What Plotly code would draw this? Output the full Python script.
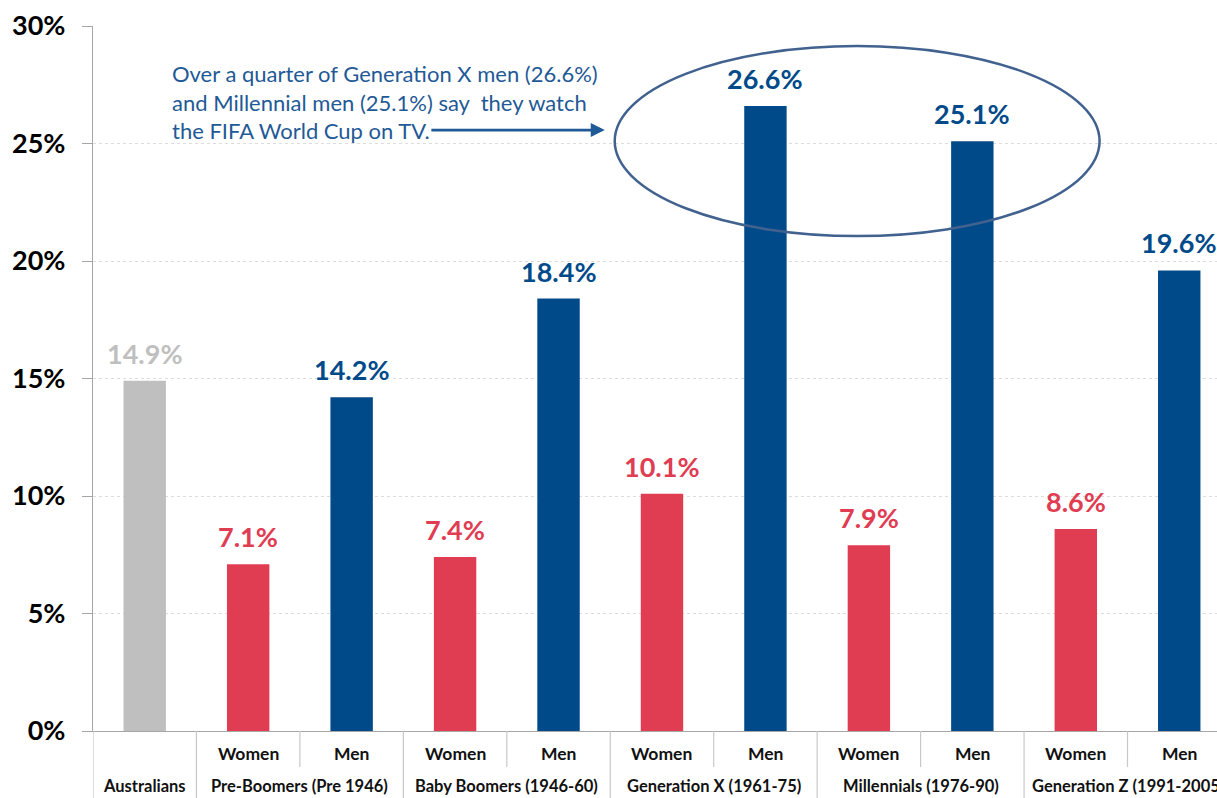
import plotly.graph_objects as go

categories = ["Australians", "Women", "Men", "Women", "Men", "Women", "Men",
              "Women", "Men", "Women", "Men"]
values = [14.9, 7.1, 14.2, 7.4, 18.4, 10.1, 26.6, 7.9, 25.1, 8.6, 19.6]
groups = ["Australians", "Pre-Boomers (Pre 1946)", "Baby Boomers (1946-60)",
          "Generation X (1961-75)", "Millennials (1976-90)", "Generation Z (1991-2005)"]
group_centers = [0, 1.5, 3.5, 5.5, 7.5, 9.5]
y_ticks = [0, 5, 10, 15, 20, 25, 30]
y_tick_labels = ["0%", "5%", "10%", "15%", "20%", "25%", "30%"]

GRAY = "#BFBFBF"
RED = "#E03C52"
BLUE = "#004A8A"
colors = [GRAY] + [RED if c == "Women" else BLUE for c in categories[1:]]

FONT = "Lato"
xs = list(range(len(values)))

fig = go.Figure()
fig.add_trace(go.Bar(
    x=xs, y=values, width=0.41,
    marker=dict(color=colors, line=dict(width=0)),
    showlegend=False,
))

shapes = []
annotations = []
# value labels
for x, v, col in zip(xs, values, colors):
    annotations.append(dict(x=x, y=v, xref="x", yref="y", text=f"{v:.1f}%",
                            showarrow=False, yanchor="bottom", yshift=9,
                            font=dict(family=FONT, size=27, color=col, weight="bold")))
# sub-category labels
for i, c in enumerate(categories):
    if i == 0:
        continue
    annotations.append(dict(x=i, y=-0.0326, xref="x", yref="paper", text=c,
                            showarrow=False, yanchor="middle",
                            font=dict(family=FONT, size=17.5, color="#111111", weight="bold")))
for g, cx in zip(groups, group_centers):
    annotations.append(dict(x=cx, y=-0.0785, xref="x", yref="paper", text=g,
                            showarrow=False, yanchor="middle",
                            font=dict(family=FONT, size=16.5, color="#111111", weight="bold")))

for sx in [-0.5, 0.5, 2.5, 4.5, 6.5, 8.5, 10.5]:
    shapes.append(dict(type="line", xref="x", yref="paper", x0=sx, x1=sx, y0=0, y1=-0.1,
                       line=dict(color="#C8C8C8", width=1.2)))
for sx in [1.5, 3.5, 5.5, 7.5, 9.5]:
    shapes.append(dict(type="line", xref="x", yref="paper", x0=sx, x1=sx, y0=0, y1=-0.051,
                       line=dict(color="#C8C8C8", width=1.2)))

# ellipse highlight
shapes.append(dict(type="circle", xref="x", yref="y", x0=4.543, x1=9.23, y0=21.06, y1=29.15,
                   line=dict(color="#41618F", width=2.5)))

# callout text
annotations.append(dict(x=0.244, y=26.77, xref="x", yref="y", xanchor="left", yanchor="middle",
                        align="left", showarrow=False,
                        text="Over a quarter of Generation X men (26.6%)<br>"
                             "and Millennial men (25.1%) say  they watch<br>"
                             "the FIFA World Cup on TV.",
                        font=dict(family=FONT, size=22, color="#1F5A96")))
annotations.append(dict(x=4.447, y=25.57, ax=2.756, ay=25.57, xref="x", yref="y",
                        axref="x", ayref="y", text="", showarrow=True,
                        arrowhead=2, arrowsize=1, arrowwidth=2.8, arrowcolor="#1F5A96"))

fig.update_layout(
    width=1217, height=798,
    margin=dict(l=93, r=0, t=26, b=67),
    plot_bgcolor="white", paper_bgcolor="white",
    shapes=shapes, annotations=annotations,
    xaxis=dict(range=[-0.5, 10.365], showticklabels=False, showgrid=False, zeroline=False,
               showline=True, linecolor="#A6A6A6", linewidth=1.3, ticks=""),
    yaxis=dict(range=[0, 30], tickvals=y_ticks, ticktext=y_tick_labels,
               tickfont=dict(family=FONT, size=27, color="#000000", weight="bold"),
               showgrid=True, gridcolor="#DCDCDC", griddash="dot", gridwidth=1,
               showline=True, linecolor="#A6A6A6", linewidth=1.3,
               ticks="outside", ticklen=10, tickcolor="#A6A6A6",
               ticklabelstandoff=11, zeroline=False),
    bargap=0.59,
)

fig.write_html("out.html")
